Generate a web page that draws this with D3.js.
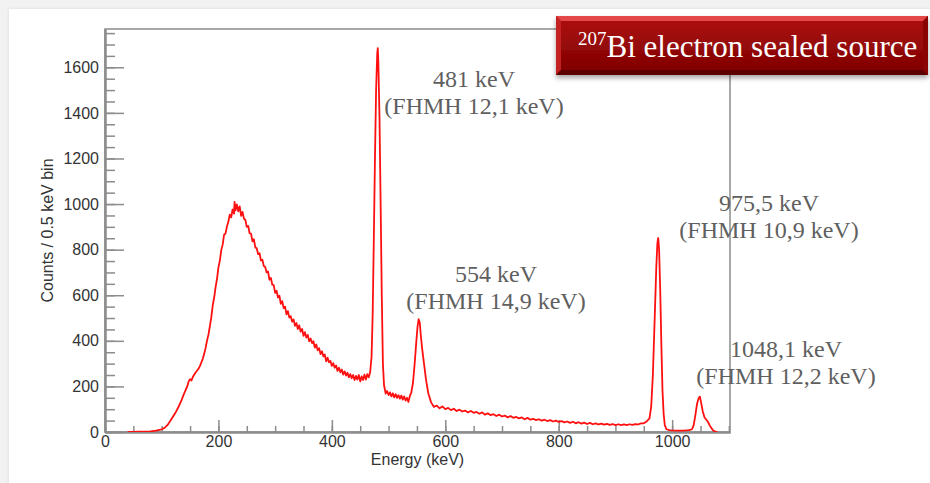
<!DOCTYPE html>
<html>
<head>
<meta charset="utf-8">
<script src="https://cdn.jsdelivr.net/npm/d3@7/dist/d3.min.js"></script>
<style>
  html, body { margin: 0; padding: 0; background: #f2f2f2; }
  #chart { width: 930px; height: 483px; }
</style>
</head>
<body>
<div id="chart"></div>
<script>
// spectrum (keV, counts per 0.5 keV bin)
var energy = [
  40, 50, 60, 70, 80, 90, 100, 105, 110, 115, 120, 125, 130, 135,
  140, 142.5, 145, 147.5, 150, 152.5, 155, 157.5, 160, 162.5, 165, 167.5, 170, 172.5,
  175, 177.5, 180, 182.5, 185, 187.5, 190, 192.5, 195, 197.5, 200, 202.5, 205, 207.5,
  210, 212.5, 215, 217.5, 220, 222.5, 225, 227.5, 228.5, 230, 232.5, 235, 237.5, 240,
  242.5, 245, 247.5, 250, 252.5, 255, 257.5, 260, 262.5, 265, 267.5, 270, 272.5, 275,
  277.5, 280, 282.5, 285, 287.5, 290, 292.5, 295, 297.5, 300, 302.5, 305, 307.5, 310,
  312.5, 315, 317.5, 320, 322.5, 325, 327.5, 330, 332.5, 335, 337.5, 340, 342.5, 345,
  347.5, 350, 352.5, 355, 357.5, 360, 362.5, 365, 367.5, 370, 372.5, 375, 377.5, 380,
  382.5, 385, 387.5, 390, 392.5, 395, 397.5, 400, 402.5, 405, 407.5, 410, 412.5, 415,
  417.5, 420, 422.5, 425, 427.5, 430, 432.5, 435, 437.5, 440, 442.5, 445, 447.5, 450,
  452.5, 455, 457.5, 460, 462.5, 465, 467.5,
  470, 472, 474, 476, 478, 480, 481, 482, 484, 486, 488, 490, 492, 495,
  497.5, 500, 502.5, 505, 507.5, 510, 512.5, 515, 517.5, 520, 522.5, 525, 527.5, 530,
  532.5, 535, 537.5, 540, 543, 546, 549, 551, 553, 555, 557, 559, 561, 563,
  566, 570, 575, 580, 585, 590, 595, 600,
  605, 610, 615, 620, 625, 630, 635, 640, 645, 650, 655, 660, 665, 670,
  675, 680, 685, 690, 695, 700, 705, 710, 715, 720, 725, 730, 735, 740,
  745, 750, 755, 760, 765, 770, 775, 780, 785, 790, 795, 800, 805, 810,
  815, 820, 825, 830, 835, 840, 845, 850, 855, 860, 865, 870, 875, 880,
  885, 890, 895, 900, 905, 910, 915, 920, 925, 930, 935, 940, 945, 950,
  955, 960, 963, 966, 969, 972, 974, 975.5, 977, 979, 981, 983, 985, 987,
  990, 995, 1000, 1010, 1020, 1030, 1035, 1038, 1041, 1044, 1047, 1049, 1051, 1054,
  1057, 1060, 1063, 1066, 1069, 1072, 1075, 1080
];
var counts = [
  0, 0, 1, 2, 3, 6, 12, 18, 30, 48, 68, 88, 112, 140,
  172, 186, 200, 222, 232, 226, 242, 252, 262, 270, 278, 290, 306, 322,
  344, 370, 402, 428, 466, 505, 556, 590, 636, 672, 722, 752, 798, 822,
  866, 870, 902, 922, 954, 942, 976, 958, 1010, 972, 998, 968, 990, 948,
  966, 936, 930, 900, 904, 872, 870, 836, 846, 810, 806, 780, 784, 752,
  756, 728, 724, 700, 704, 668, 676, 646, 644, 610, 620, 590, 598, 562,
  574, 544, 550, 516, 530, 502, 508, 484, 494, 466, 478, 452, 468, 440,
  452, 422, 438, 414, 426, 398, 410, 390, 398, 370, 384, 358, 368, 342,
  354, 332, 340, 310, 326, 306, 312, 290, 302, 282, 292, 268, 282, 262,
  274, 252, 266, 248, 260, 240, 254, 236, 250, 228, 246, 230, 250, 222,
  244, 228, 252, 230, 254, 240, 262,
  330, 520, 850, 1200, 1500, 1660, 1684, 1620, 1380, 1000, 600, 300, 205, 168,
  180, 162, 174, 156, 170, 152, 166, 150, 162, 146, 160, 142, 156, 138,
  150, 132, 158, 172, 215, 300, 400, 460, 495, 480, 420, 370, 330, 290,
  230, 170, 130, 110, 116, 104, 112, 100,
  106, 96, 102, 92, 98, 90, 94, 86, 92, 84, 88, 80, 86, 76,
  82, 74, 78, 70, 76, 68, 72, 64, 70, 62, 66, 60, 64, 56,
  62, 54, 58, 52, 56, 50, 54, 48, 52, 46, 50, 44, 48, 42,
  46, 40, 45, 38, 43, 37, 41, 35, 40, 34, 38, 33, 37, 32,
  36, 31, 35, 30, 34, 30, 33, 30, 34, 31, 35, 33, 38, 38,
  46, 60, 110, 250, 480, 720, 830, 851, 800, 620, 380, 180, 80, 30,
  12, 8, 7, 6, 6, 8, 12, 30, 75, 125, 150, 155, 130, 90,
  65, 55, 45, 30, 18, 8, 3, 0
];

var xTicks = [0, 200, 400, 600, 800, 1000];
var yTicks = [0, 200, 400, 600, 800, 1000, 1200, 1400, 1600];

var peakEnergy = ["481 keV", "554 keV", "975,5 keV", "1048,1 keV"];
var peakFwhm = ["(FHMH 12,1 keV)", "(FHMH 14,9 keV)", "(FHMH 10,9 keV)", "(FHMH 12,2 keV)"];

var width = 930, height = 483;
var margin = {top: 29, right: 200, bottom: 51, left: 105};

var svg = d3.select("#chart").append("svg")
    .attr("width", width)
    .attr("height", height)
    .style("display", "block");

var defs = svg.append("defs");

var shadow = defs.append("filter").attr("id", "shadow")
    .attr("x", "-5%").attr("y", "-20%").attr("width", "110%").attr("height", "160%");
shadow.append("feDropShadow")
    .attr("dx", 0).attr("dy", 3).attr("stdDeviation", 2.5)
    .attr("flood-color", "#000").attr("flood-opacity", 0.35);

var card = defs.append("filter").attr("id", "card")
    .attr("x", "-2%").attr("y", "-2%").attr("width", "104%").attr("height", "104%");
card.append("feDropShadow")
    .attr("dx", 0).attr("dy", 0).attr("stdDeviation", 1.5)
    .attr("flood-color", "#000").attr("flood-opacity", 0.12);

var grad = defs.append("linearGradient").attr("id", "banner")
    .attr("x1", 0).attr("y1", 0).attr("x2", 0).attr("y2", 1);
grad.append("stop").attr("offset", "0%").attr("stop-color", "#b00d0d");
grad.append("stop").attr("offset", "100%").attr("stop-color", "#7c0202");

defs.append("clipPath").attr("id", "plotclip")
  .append("rect")
    .attr("x", margin.left)
    .attr("y", margin.top)
    .attr("width", width - margin.left - margin.right)
    .attr("height", height - margin.top - margin.bottom);

// white slide background
svg.append("rect")
    .attr("x", 9).attr("y", 9)
    .attr("width", width).attr("height", height)
    .attr("fill", "#fff")
    .attr("filter", "url(#card)");

var x = d3.scaleLinear()
    .domain([0, 1102])
    .range([margin.left, width - margin.right]);

var y = d3.scaleLinear()
    .domain([0, 1768])
    .range([height - margin.bottom, margin.top]);

// frame
svg.append("rect")
    .attr("x", x(0)).attr("y", y(1768))
    .attr("width", x(1102) - x(0))
    .attr("height", y(0) - y(1768))
    .attr("fill", "none")
    .attr("stroke", "#8c8c8c")
    .attr("stroke-width", 1.5);

// minor ticks
svg.append("g")
    .attr("class", "axis minor")
    .attr("transform", "translate(0," + y(0) + ")")
    .call(d3.axisBottom(x).tickValues(d3.range(0, 1101, 50)).tickSizeInner(-6).tickSizeOuter(0).tickFormat(""));

svg.append("g")
    .attr("class", "axis minor")
    .attr("transform", "translate(" + x(0) + ",0)")
    .call(d3.axisLeft(y).tickValues(d3.range(0, 1751, 50)).tickSizeInner(-10).tickSizeOuter(0).tickFormat(""));

// major ticks + labels
svg.append("g")
    .attr("class", "axis major")
    .attr("transform", "translate(0," + y(0) + ")")
    .call(d3.axisBottom(x).tickValues(xTicks).tickSizeInner(-12).tickSizeOuter(0).tickPadding(4).tickFormat(d3.format("d")));

svg.append("g")
    .attr("class", "axis major")
    .attr("transform", "translate(" + x(0) + ",0)")
    .call(d3.axisLeft(y).tickValues(yTicks).tickSizeInner(-19).tickSizeOuter(0).tickPadding(6).tickFormat(d3.format("d")));

svg.selectAll(".axis path.domain")
    .attr("stroke", "#8c8c8c")
    .attr("stroke-width", 2);
svg.selectAll(".axis .tick line")
    .attr("stroke", "#8c8c8c")
    .attr("stroke-width", 1.5);
svg.selectAll(".axis text")
    .attr("font-family", "Liberation Sans, Arial, sans-serif")
    .attr("font-size", 16)
    .attr("fill", "#333");

// axis titles
svg.append("text")
    .attr("x", (x(0) + x(1102)) / 2)
    .attr("y", 465)
    .attr("text-anchor", "middle")
    .attr("font-family", "Liberation Sans, Arial, sans-serif")
    .attr("font-size", 16)
    .attr("fill", "#333")
    .text("Energy (keV)");

svg.append("text")
    .attr("transform", "translate(53," + (y(0) + y(1768)) / 2 + ") rotate(-90)")
    .attr("text-anchor", "middle")
    .attr("font-family", "Liberation Sans, Arial, sans-serif")
    .attr("font-size", 16)
    .attr("fill", "#333")
    .text("Counts / 0.5 keV bin");

// spectrum
var line = d3.line()
    .x(function(d, i) { return x(energy[i]); })
    .y(function(d) { return y(d); });

svg.append("path")
    .datum(counts)
    .attr("clip-path", "url(#plotclip)")
    .attr("fill", "none")
    .attr("stroke", "#ff1010")
    .attr("stroke-width", 1.8)
    .attr("stroke-linejoin", "round")
    .attr("d", line);

// peak annotations (centre x, baseline of first line)
var labelPos = [[474, 87], [496, 282], [769, 211], [786, 357]];

var notes = svg.append("g")
    .attr("font-family", "Liberation Serif, Times New Roman, serif")
    .attr("font-size", 24)
    .attr("fill", "#5f5f5f")
    .attr("text-anchor", "middle")
    .selectAll("g")
    .data(peakEnergy)
    .enter().append("g")
    .attr("transform", function(d, i) { return "translate(" + labelPos[i][0] + "," + labelPos[i][1] + ")"; });

notes.append("text")
    .text(function(d) { return d; });

notes.append("text")
    .attr("y", 27)
    .text(function(d, i) { return peakFwhm[i]; });

// title banner
var banner = svg.append("g").attr("transform", "translate(556,16)");

banner.append("rect")
    .attr("width", 372).attr("height", 59)
    .attr("fill", "url(#banner)")
    .attr("filter", "url(#shadow)");
banner.append("path")
    .attr("d", "M0,0H372L367,5H5Z")
    .attr("fill", "#e44848");
banner.append("path")
    .attr("d", "M0,0L5,5V54L0,59Z")
    .attr("fill", "#c42222");
banner.append("path")
    .attr("d", "M0,59L5,54H367L372,59Z")
    .attr("fill", "#5e0000");
banner.append("path")
    .attr("d", "M372,0L367,5V54L372,59Z")
    .attr("fill", "#8a0404");

var title = banner.append("text")
    .attr("x", 22)
    .attr("y", 41)
    .attr("font-family", "Liberation Serif, Times New Roman, serif")
    .attr("fill", "#fff");
title.append("tspan")
    .attr("font-size", 19)
    .attr("dy", -12)
    .text("207");
title.append("tspan")
    .attr("font-size", 31)
    .attr("dy", 12)
    .text("Bi electron sealed source");
</script>
</body>
</html>
